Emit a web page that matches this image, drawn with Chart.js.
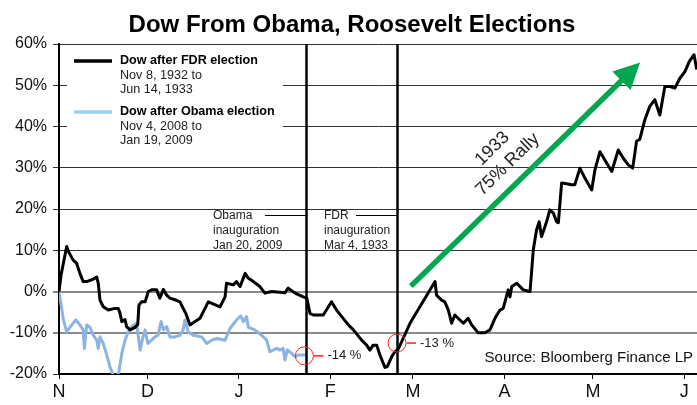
<!DOCTYPE html>
<html>
<head>
<meta charset="utf-8">
<script src="https://cdn.jsdelivr.net/npm/chart.js@4"></script>
<style>
  html, body { margin: 0; padding: 0; background: #fff; }
  #wrap { width: 697px; height: 405px; position: relative; }
</style>
</head>
<body>
<div id="wrap"><canvas id="c" width="697" height="405"></canvas></div>
<script>
// ---- Data (x = days after election, y = % change) ----
const fdrDays = [0,0.7,2.6,3.2,4.8,6.0,7.1,8.2,9.4,11.6,12.8,13.3,13.9,15.0,16.7,19.0,20.1,20.7,21.3,22.4,22.9,24.1,25.8,26.7,27.1,28.0,29.2,30.3,31.4,33.1,34.2,35.4,36.5,37.6,39.3,41.0,42.1,43.1,44.4,47.8,50.6,54.6,56.3,56.8,59.1,60.2,61.4,63.1,64.2,65.9,68.1,69.8,72.1,76.6,77.7,80.0,82.8,84.0,85.1,86.2,89.6,92.4,94.1,98.1,99.8,102.6,104.3,105.4,106.5,107.7,108.8,110.5,111.3,112.8,113.9,115.0,119.0,127.5,128.0,129.7,130.8,132.0,133.1,134.2,135.9,137.1,138.7,139.9,142.1,144.4,146.1,147.8,149.5,150.6,152.3,152.9,153.5,155.2,157.4,159.7,160.8,161.9,162.8,163.6,165.3,166.4,167.6,168.7,169.3,170.4,172.1,173.8,174.9,176.6,178.3,180.6,181.7,183.4,185.7,187.4,189.6,191.3,193.0,194.5,195.8,196.9,198.6,200.3,202.0,203.7,205.4,207.1,208.8,210.5,212.2,213.7,215.3,216.2];
const fdrValues = [0,4,10.9,9.7,7.6,6.8,4.4,2.4,2.4,3.0,3.5,2.0,-2.1,-3.7,-4.5,-4.1,-4.1,-5.3,-7.3,-6.8,-8.5,-9.3,-8.7,-8.0,-3.3,-2.5,-2.5,0,0.4,0.4,-1.6,0.5,-0.9,-1.6,-2.0,-2.5,-4.1,-5.5,-8.1,-6.5,-2.5,-3.7,-1.3,2.0,1.6,2.4,1.2,4.4,3.2,2.4,1.2,-0.4,0,-0.3,0.8,-0.4,-1.3,-1.6,-5.3,-5.7,-5.7,-2.5,-4.5,-8.1,-9.3,-11.8,-13,-14.2,-13,-13,-15.4,-18.4,-18.2,-15.8,-14.6,-14.0,-7.7,2.4,-0.9,-2.1,-2.5,-4.5,-7.7,-5.7,-6.9,-7.7,-6.5,-8.1,-10.0,-10,-9.3,-6.5,-4.5,-4.1,0.4,-1.3,1.2,2.0,0.4,0,10.1,14.9,16.9,13.3,16.9,19.8,19.0,16.9,16.7,26.3,26.1,25.9,25.9,29.9,27.5,24.6,29.5,33.9,31.1,29.1,34.3,32.3,30.7,29.9,36.4,36.9,41.6,44.9,46.5,42.8,49.7,49.7,49.3,51.7,53.3,55.8,57.4,53.8];

const obamaDays = [0,1.5,2.6,4.3,5.7,7.1,8.2,8.6,9.4,10.5,11.6,12.8,13.3,13.9,15.0,16.2,17.3,18.4,19.6,20.3,21.3,22.4,23.3,24.6,26.3,27.5,28.2,29.2,30.1,31.4,32.5,33.6,34.6,35.4,36.5,37.6,39.3,41.0,42.1,42.7,43.8,45.5,48.4,50.1,51.8,53.5,56.3,58.0,60.2,61.6,62.5,63.6,64.2,66.4,68.7,70.4,71.5,73.8,74.9,76.0,76.6,77.4,78.9,80.0,81.1,83.4];
const obamaValues = [0,-6.9,-9.8,-8.1,-6.9,-8.1,-9.3,-13.8,-8.1,-8.7,-10.6,-11.8,-13.8,-11,-12.6,-15.4,-18.3,-20.3,-20.7,-19.5,-15,-11.8,-10.1,-8.5,-7.7,-14.2,-11.8,-9.3,-12.6,-11.8,-11,-10.6,-7.3,-9.3,-8.5,-11,-11,-10.6,-9.3,-6.9,-9.8,-10.6,-11,-12.6,-11.8,-11.4,-11.8,-8.9,-6.9,-5.9,-7.3,-6.1,-8.7,-9.3,-10.6,-11.8,-14.6,-13.8,-14.2,-13.8,-16.6,-14.2,-15,-15.8,-15.4,-15.4];

const xTickDays = [0,30,61,92,120,151,181,212];
const xTickLabels = ['N','D','J','F','M','A','M','J'];
const yTickValues = [-20,-10,0,10,20,30,40,50,60];

const inaugurationDays = [83.6, 114.6];
const inaugurationLabels = [['Obama','inauguration','Jan 20, 2009'], ['FDR','inauguration','Mar 4, 1933']];
const markerDays = [83.2, 114.6];
const markerValues = [-15.6, -12.5];
const markerLabels = ['-14 %', '-13 %'];

const legendTitles = ['Dow after FDR election', 'Dow after Obama election'];
const legendSubs = [['Nov 8, 1932 to','Jun 14, 1933'], ['Nov 4, 2008 to','Jan 19, 2009']];

const FONT = "Arial, 'Liberation Sans', Helvetica, sans-serif";
const BLACK_LINE = '#000000';
const BLUE_LINE = '#8DB3E2';
const BLUE_LEGEND = '#9BD3F2';
const GREEN = '#00A650';

const toXY = (xs, ys) => xs.map((x, i) => ({x: x, y: ys[i]}));

const decor = {
  id: 'decor',
  beforeDatasetsDraw(chart) {
    const c = chart.ctx;
    const xs = chart.scales.x;
    const a = chart.chartArea;
    c.save();
    c.fillStyle = '#fff';
    c.fillRect(67, 46, 216, 107);
    c.strokeStyle = '#000';
    c.lineWidth = 2.5;
    inaugurationDays.forEach(d => {
      const px = Math.round(xs.getPixelForValue(d)) + 0.5;
      c.beginPath(); c.moveTo(px, a.top); c.lineTo(px, a.bottom); c.stroke();
    });
    c.restore();
  },
  afterDatasetsDraw(chart) {
    const c = chart.ctx;
    const xs = chart.scales.x, ys = chart.scales.y;
    c.save();
    c.fillStyle = '#000';
    c.font = "bold 24px " + FONT;
    c.textAlign = 'center';
    c.textBaseline = 'alphabetic';
    c.fillText('Dow From Obama, Roosevelt Elections', 352, 31.5);

    c.textAlign = 'left';
    c.textBaseline = 'middle';
    const legColors = [BLACK_LINE, BLUE_LEGEND];
    const legY = [61, 112];
    legendTitles.forEach((t, i) => {
      c.strokeStyle = legColors[i];
      c.lineWidth = 3.5;
      c.beginPath(); c.moveTo(74, legY[i]); c.lineTo(112, legY[i]); c.stroke();
      c.fillStyle = '#000';
      c.font = "bold 12.6px " + FONT;
      c.fillText(t, 120, legY[i]);
      c.font = "12.6px " + FONT;
      c.fillStyle = '#222';
      legendSubs[i].forEach((s, j) => c.fillText(s, 120, legY[i] + 14.5 * (j + 1)));
    });

    c.font = "12px " + FONT;
    c.fillStyle = '#222';
    const labX = [213, 324];
    const leadStart = [265, 356];
    inaugurationDays.forEach((d, i) => {
      const px = xs.getPixelForValue(d);
      inaugurationLabels[i].forEach((s, j) => c.fillText(s, labX[i], 215.5 + 15 * j));
      c.strokeStyle = '#000';
      c.lineWidth = 1;
      c.beginPath(); c.moveTo(leadStart[i], 215.5); c.lineTo(px, 215.5); c.stroke();
    });

    markerDays.forEach((d, i) => {
      const px = xs.getPixelForValue(d), py = ys.getPixelForValue(markerValues[i]);
      c.strokeStyle = '#FF2020';
      c.lineWidth = 1;
      c.beginPath(); c.arc(px, py, 9, 0, Math.PI * 2); c.stroke();
      c.lineWidth = 1.5;
      c.beginPath(); c.moveTo(px + 9.5, py); c.lineTo(px + 19, py); c.stroke();
      c.fillStyle = '#222';
      c.font = "13px " + FONT;
      c.fillText(markerLabels[i], px + 23, py);
    });

    const x1 = xs.getPixelForValue(119.3), y1 = ys.getPixelForValue(1.3);
    const x2 = xs.getPixelForValue(197), y2 = ys.getPixelForValue(55.5);
    const ang = Math.atan2(y2 - y1, x2 - x1);
    const headLen = 26, headW = 13;
    const bx = x2 - headLen * Math.cos(ang), by = y2 - headLen * Math.sin(ang);
    c.strokeStyle = GREEN;
    c.lineWidth = 5.5;
    c.lineCap = 'butt';
    c.beginPath(); c.moveTo(x1, y1); c.lineTo(bx + 2 * Math.cos(ang), by + 2 * Math.sin(ang)); c.stroke();
    c.fillStyle = GREEN;
    c.beginPath();
    c.moveTo(x2, y2);
    c.lineTo(bx + headW * Math.sin(ang), by - headW * Math.cos(ang));
    c.lineTo(bx - headW * Math.sin(ang), by + headW * Math.cos(ang));
    c.closePath(); c.fill();

    c.save();
    c.translate(500, 156.5);
    c.rotate(ang);
    c.fillStyle = '#222';
    c.font = "18px " + FONT;
    c.textAlign = 'center';
    c.textBaseline = 'middle';
    c.fillText('1933', 0, -11);
    c.fillText('75% Rally', 0, 11);
    c.restore();

    c.font = "15px " + FONT;
    c.fillStyle = '#111';
    c.textAlign = 'right';
    c.textBaseline = 'middle';
    c.fillText('Source: Bloomberg Finance LP', 693, 358);
    c.restore();
  }
};

new Chart(document.getElementById('c'), {
  type: 'line',
  data: {
    datasets: [
      { label: legendTitles[0], data: toXY(fdrDays, fdrValues), borderColor: BLACK_LINE, borderWidth: 3, pointRadius: 0, tension: 0, borderJoinStyle: 'round', fill: false },
      { label: legendTitles[1], data: toXY(obamaDays, obamaValues), borderColor: BLUE_LINE, borderWidth: 3, pointRadius: 0, tension: 0, borderJoinStyle: 'round', fill: false }
    ]
  },
  options: {
    responsive: false,
    animation: false,
    devicePixelRatio: 1,
    layout: { padding: { top: 44, right: 0, left: 0, bottom: 0 } },
    plugins: { legend: { display: false }, title: { display: false }, tooltip: { enabled: false } },
    scales: {
      x: {
        type: 'linear',
        min: 0,
        max: 216.3,
        afterBuildTicks: s => { s.ticks = xTickDays.map(v => ({ value: v })); },
        afterFit: s => { s.height = 31; },
        ticks: {
          autoSkip: false, maxRotation: 0, minRotation: 0,
          color: '#111', font: { family: FONT, size: 18 }, padding: 2,
          callback: (v, i) => xTickLabels[i]
        },
        grid: { drawOnChartArea: false, drawTicks: true, tickLength: 5, color: '#000', lineWidth: 1 },
        border: { color: '#000', width: 2 }
      },
      y: {
        type: 'linear',
        min: -20,
        max: 60,
        afterBuildTicks: s => { s.ticks = yTickValues.map(v => ({ value: v })); },
        afterFit: s => { s.width = 59; },
        ticks: {
          color: '#111', font: { family: FONT, size: 16 }, padding: 6,
          callback: v => v + '%'
        },
        grid: {
          color: ctx => (ctx.tick && (ctx.tick.value === 0 || ctx.tick.value === -10)) ? '#8a8a8a' : '#333',
          lineWidth: ctx => (ctx.tick && (ctx.tick.value === 0 || ctx.tick.value === -10)) ? 2 : 1,
          tickLength: 6,
          drawTicks: true
        },
        border: { color: '#000', width: 2 }
      }
    }
  },
  plugins: [decor]
});
</script>
</body>
</html>
